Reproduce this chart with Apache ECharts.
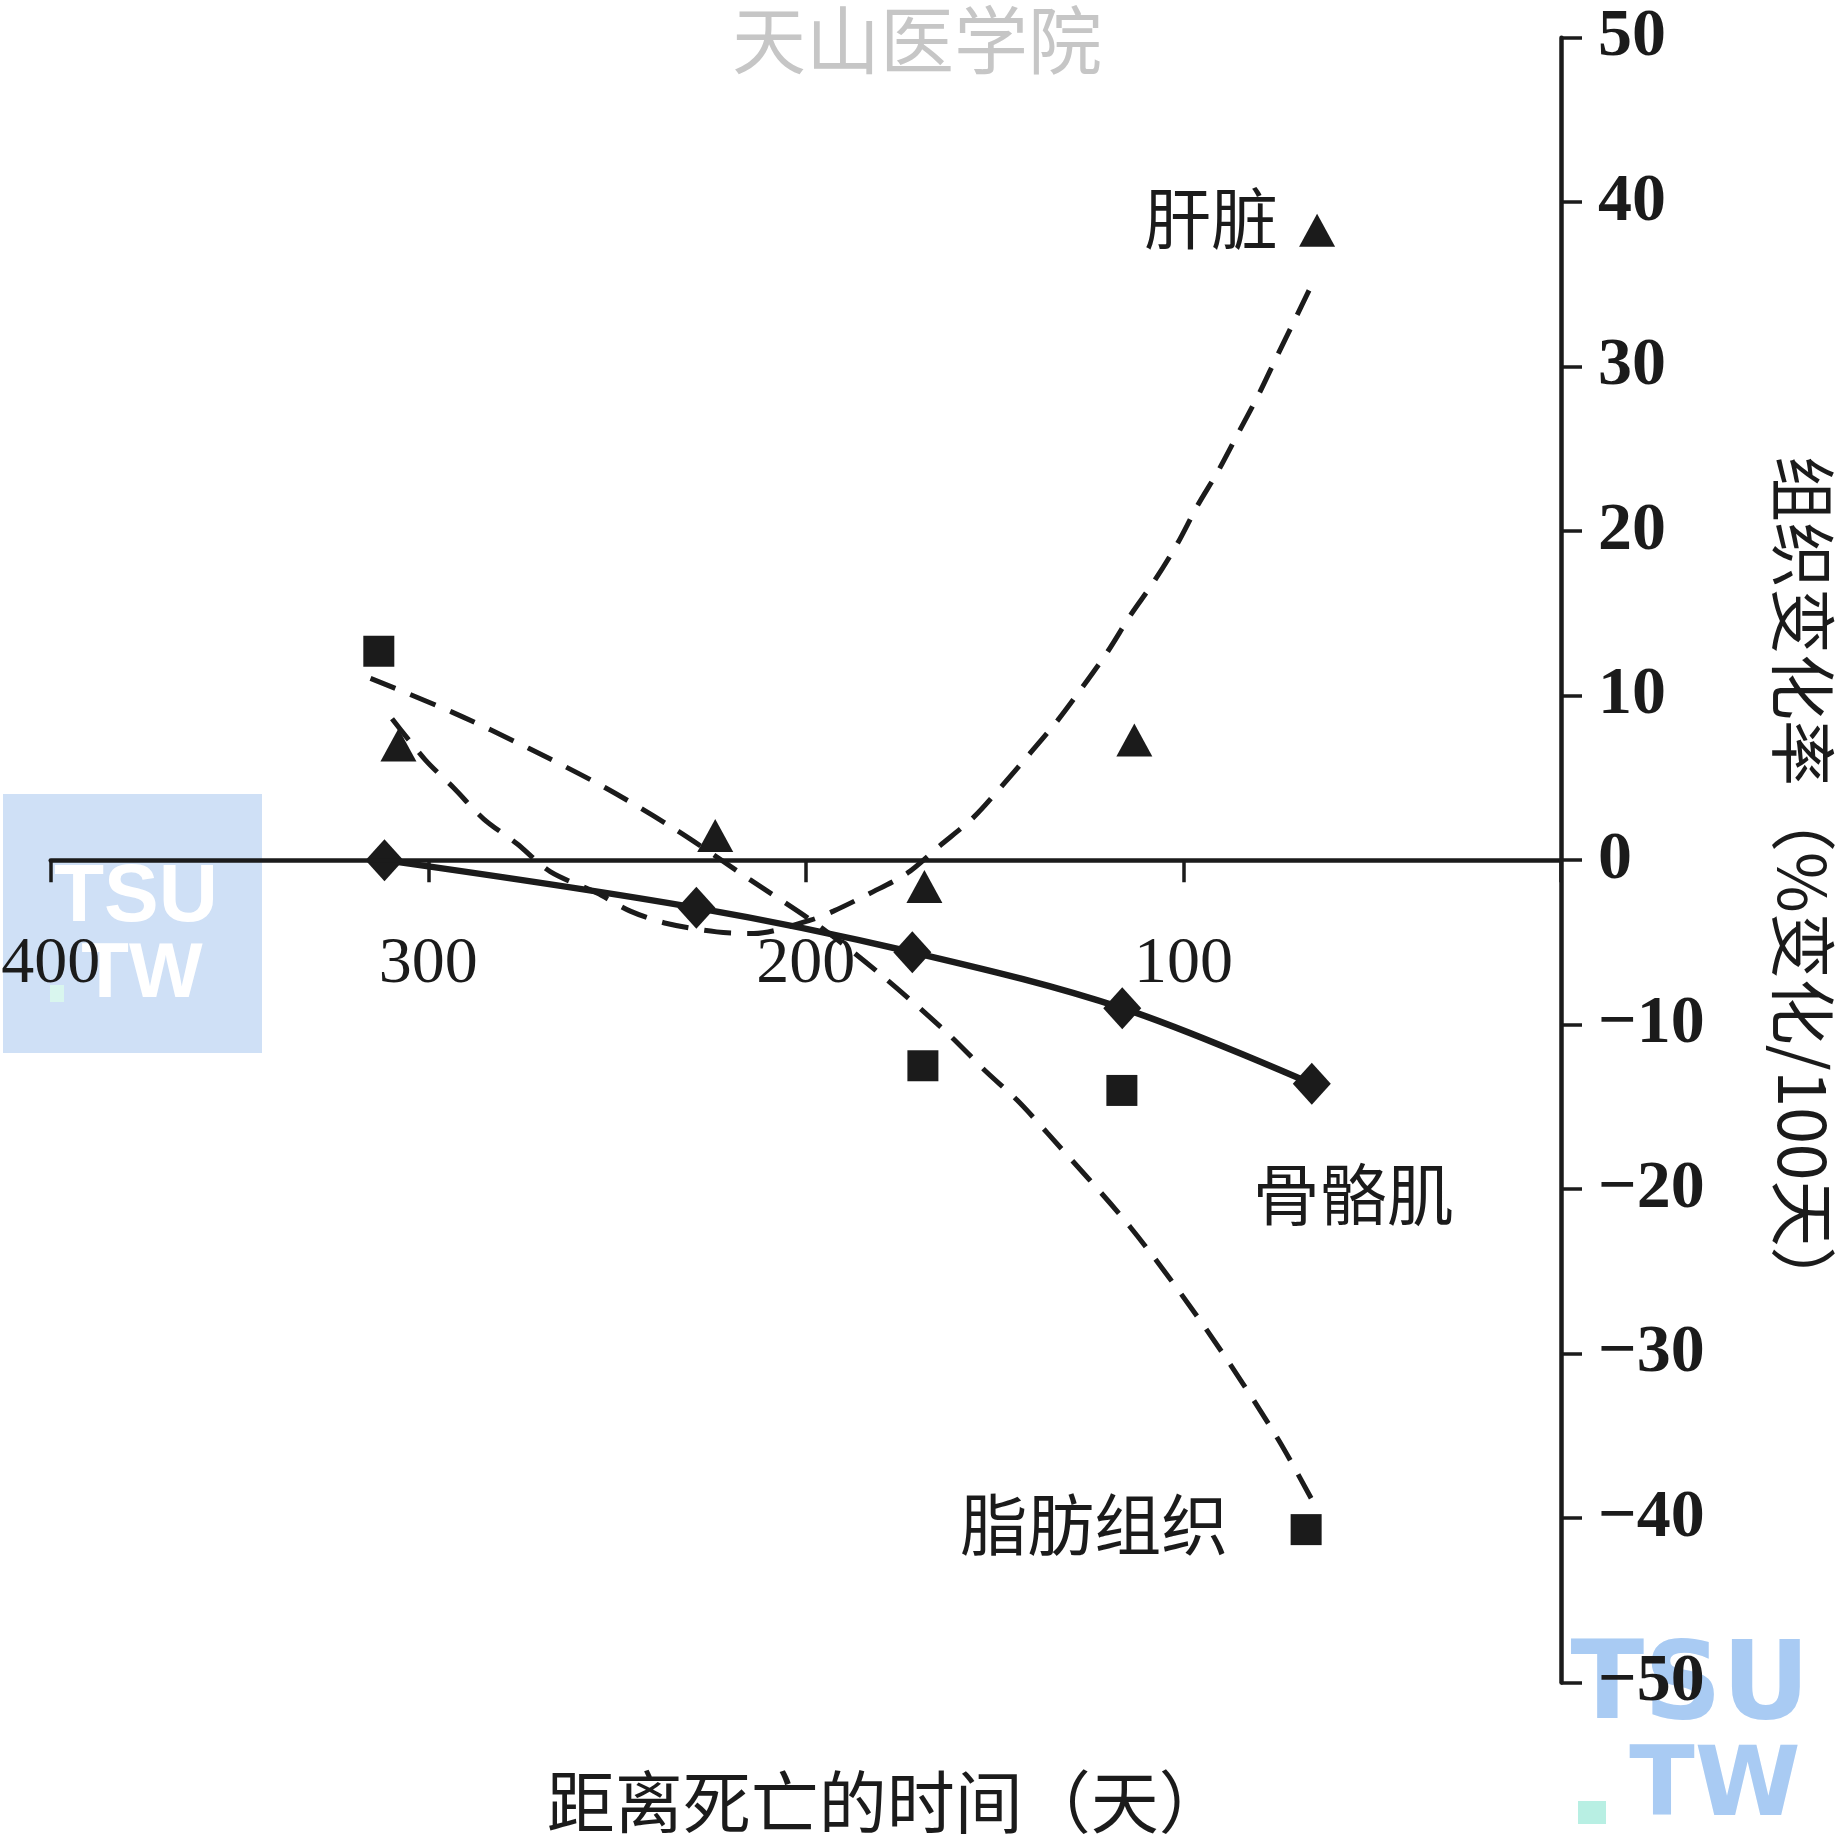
<!DOCTYPE html>
<html><head><meta charset="utf-8">
<script src="https://cdn.jsdelivr.net/npm/echarts@6/dist/echarts.min.js"></script>
<style>html,body{margin:0;padding:0;background:#fff}#c{width:1837px;height:1848px}</style>
</head><body><div id="c"></div>
<script>
// ---- data ----
const xRange = [0, 400];           // days before death (axis runs 400 -> 0)
const yRange = [-50, 50];          // % change per 100 days
const xStep = 100, yStep = 10;

// 骨骼肌 (skeletal muscle) – diamonds, solid line
const muscleX = [311.6, 229.0, 171.8, 116.2, 66.0];
const muscleY = [0.0, -2.9, -5.6, -9.0, -13.6];

// 肝脏 (liver) – triangles
const liverX = [307.9, 224.0, 168.6, 113.0, 64.6];
const liverY = [7.0, 1.5, -1.6, 7.3, 38.3];

// 脂肪组织 (adipose) – squares
const fatX = [313.1, 169.0, 116.3, 67.5];
const fatY = [12.7, -12.5, -14.0, -40.7];

// dashed trend curve for liver
const liverFitX = [309.6, 300.8, 293.3, 285.3, 276.5, 267.7, 255.3, 246.5, 236.8, 223.6, 213.8, 198.8, 192.7, 182.9, 173.2, 164.4, 155.6, 148.1, 140.6, 133.3, 126.8, 120.0, 114.0, 107.9, 101.7, 96.4, 90.7, 85.4, 80.1, 75.3, 70.4, 66.6];
const liverFitY = [8.6, 6.1, 4.4, 2.5, 1.0, -0.7, -2.0, -3.1, -3.85, -4.36, -4.46, -3.65, -3.1, -2.0, -0.8, 0.9, 2.6, 4.5, 6.5, 8.5, 10.5, 12.7, 14.9, 16.9, 19.2, 21.5, 23.7, 26.0, 28.3, 30.6, 32.9, 34.7];

// dashed trend curve for adipose tissue
const fatFitX = [315.3, 293.7, 273.4, 253.1, 234.1, 214.7, 196.2, 179.4, 162.6, 152.5, 144.0, 136.0, 114.1, 93.7, 75.2, 64.3];
const fatFitY = [11.05, 9.0, 6.8, 4.4, 1.8, -1.2, -4.05, -7.1, -10.5, -12.8, -14.6, -16.6, -22.3, -28.6, -35.1, -39.6];

// annotation labels (data coordinates of text centre)
const annoText = ['肝脏', '骨骼肌', '脂肪组织'];
const annoX = [92.7, 55.0, 123.6];
const annoY = [39.0, -20.3, -40.4];

const xName = '距离死亡的时间（天）';
const yName = '组织变化率（%变化/100天）';
const watermark = '天山医学院';

// ---- chart ----
const zip = (a, b) => a.map((v, i) => [v, b[i]]);
const INK = '#1b1b1b';
const W = 1837, H = 1848;
const G = {left: 50.7, right: 276, top: 37.7, bottom: 165.4};
const gridH = H - G.top - G.bottom;
// the x axis sits on y = 0, which is the vertical middle of the symmetric y range
const xAxisOffset = -gridH * (0 - yRange[0]) / (yRange[1] - yRange[0]);

const chart = echarts.init(document.getElementById('c'), null, {renderer: 'canvas'});

const option = {
  backgroundColor: '#ffffff',
  animation: false,
  grid: Object.assign({containLabel: false, outerBoundsMode: 'none'}, G),
  xAxis: {
    type: 'value', inverse: true, min: xRange[0], max: xRange[1], interval: xStep,
    position: 'bottom', offset: xAxisOffset,
    z: 5,
    splitLine: {show: false},
    axisLine: {onZero: false, lineStyle: {color: INK, width: 4.5}},
    axisTick: {show: true, inside: false, length: 22, lineStyle: {color: INK, width: 3.5}},
    axisLabel: {
      show: true, margin: 72, showMinLabel: true, showMaxLabel: true,
      color: INK, fontFamily: 'Liberation Serif', fontSize: 66,
      formatter: v => (v === 0 ? '' : String(v))
    },
    name: xName, nameLocation: 'middle', nameGap: 908, nameMoveOverlap: false,
    nameTextStyle: {color: INK, fontFamily: 'Noto Sans CJK SC', fontSize: 68, padding: [0, 0, 0, 162]}
  },
  yAxis: {
    type: 'value', position: 'right', min: yRange[0], max: yRange[1], interval: yStep,
    z: 5,
    splitLine: {show: false},
    axisLine: {show: true, onZero: false, lineStyle: {color: INK, width: 4.5}},
    axisTick: {show: true, inside: false, length: 21, lineStyle: {color: INK, width: 3.5}},
    axisLabel: {
      margin: 37, align: 'left', color: INK, fontFamily: 'Liberation Serif', fontWeight: 'bold', fontSize: 68,
      formatter: v => (v < 0 ? '\u2212' + (-v) : String(v))
    },
    name: yName, nameLocation: 'middle', nameRotate: -90, nameGap: 209, nameMoveOverlap: false,
    nameTextStyle: {color: INK, fontFamily: 'Noto Sans CJK SC', fontSize: 66, padding: [0, 0, 0, 48]}
  },
  series: [
    {
      name: '肝脏拟合', type: 'line', data: zip(liverFitX, liverFitY), smooth: 0.3,
      showSymbol: false, symbol: 'none', z: 3,
      lineStyle: {color: INK, width: 5, type: [27, 16], opacity: 1}
    },
    {
      name: '脂肪组织拟合', type: 'line', data: zip(fatFitX, fatFitY), smooth: 0.3,
      showSymbol: false, symbol: 'none', z: 3,
      lineStyle: {color: INK, width: 5, type: [27, 16], opacity: 1}
    },
    {
      name: '骨骼肌', type: 'line', data: zip(muscleX, muscleY), smooth: 0.35,
      symbol: 'diamond', symbolSize: [38, 42], showSymbol: true, z: 4,
      itemStyle: {color: INK, opacity: 1}, lineStyle: {color: INK, width: 6.5, opacity: 1}
    },
    {
      name: '肝脏', type: 'scatter', data: zip(liverX, liverY),
      symbol: 'triangle', symbolSize: [36, 33], z: 4, itemStyle: {color: INK, opacity: 1}
    },
    {
      name: '脂肪组织', type: 'scatter', data: zip(fatX, fatY),
      symbol: 'rect', symbolSize: 31, z: 4, itemStyle: {color: INK, opacity: 1}
    }
  ]
};
chart.setOption(option);

// text annotations positioned through the chart's own scales + watermarks
const annoEls = annoText.map((t, i) => {
  const p = chart.convertToPixel({gridIndex: 0}, [annoX[i], annoY[i]]);
  return {
    type: 'text', x: p[0], y: p[1], z: 20,
    style: {text: t, fill: INK, font: '67px "Noto Sans CJK SC"', align: 'center', verticalAlign: 'middle'}
  };
});
const wmEls = [
  {type: 'text', x: 917, y: 40, z: -10,
   style: {text: watermark, fill: '#c6c6c6', font: '74px "Noto Sans CJK SC"', align: 'center', verticalAlign: 'middle'}},
  {type: 'rect', shape: {x: 3, y: 794, width: 259, height: 259}, z: -10, style: {fill: '#cfe0f6'}},
  {type: 'text', x: 136, y: 898, z: -9,
   style: {text: 'TSU', fill: '#ffffff', font: 'bold 82px "Liberation Sans"', align: 'center', verticalAlign: 'middle'}},
  {type: 'rect', shape: {x: 50, y: 985, width: 14, height: 17}, z: -9, style: {fill: '#d9f6ee'}},
  {type: 'text', x: 142, y: 975, z: -9,
   style: {text: 'TW', fill: '#ffffff', font: 'bold 78px "Liberation Sans"', align: 'center', verticalAlign: 'middle'}},
  {type: 'text', x: 1690, y: 1690, z: -10,
   style: {text: 'TSU', fill: '#a9cbf3', font: 'bold 108px "DejaVu Sans"', align: 'center', verticalAlign: 'middle'}},
  {type: 'rect', shape: {x: 1578, y: 1801, width: 28, height: 23}, z: -10, style: {fill: '#b8efe3'}},
  {type: 'text', x: 1715, y: 1790, z: -10,
   style: {text: 'TW', fill: '#a9cbf3', font: 'bold 96px "DejaVu Sans"', align: 'center', verticalAlign: 'middle'}}
];
chart.setOption({graphic: {elements: annoEls.concat(wmEls)}});
</script>
</body></html>
